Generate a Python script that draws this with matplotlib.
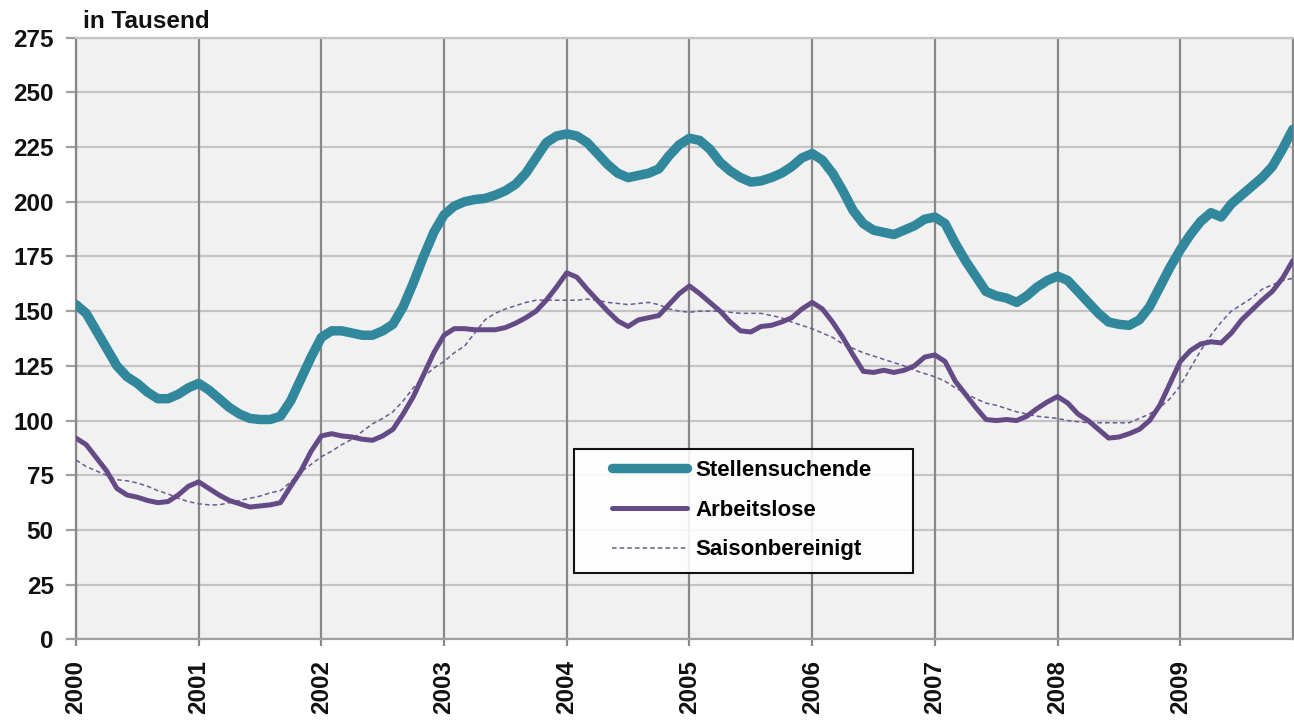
import matplotlib
matplotlib.use("Agg")
import matplotlib.pyplot as plt
from matplotlib.patches import Rectangle
import numpy as np

plt.rcParams['font.family'] = ['Liberation Sans', 'DejaVu Sans']

years = [2000, 2001, 2002, 2003, 2004, 2005, 2006, 2007, 2008, 2009]
year_labels = [str(y) for y in years]
y_ticks = [0, 25, 50, 75, 100, 125, 150, 175, 200, 225, 250, 275]

stellensuchende = [
    153, 149, 141, 133, 125, 120, 117, 113, 110, 110, 112, 115,
    117, 114, 110, 106, 103, 101, 100.5, 100.5, 102, 109, 119, 129,
    138, 141, 141, 140, 139, 139, 141, 144, 152, 163, 175, 186,
    194, 198, 200, 201, 201.5, 203, 205, 208, 213, 220, 227, 230,
    231, 230, 227, 222, 217, 213, 211, 212, 213, 215, 221, 226,
    229, 228, 224, 218, 214, 211, 209, 209.5, 211, 213, 216, 220,
    222, 219, 213, 205, 196, 190, 187, 186, 185, 187, 189, 192,
    193, 190, 181, 173, 166, 159, 157, 156, 154, 157, 161, 164,
    166, 164, 159, 154, 149, 145, 144, 143.5, 146, 152, 161, 170,
    178, 185, 191, 195, 193, 199, 203, 207, 211, 216, 224, 233,
]

arbeitslose = [
    92, 89, 83, 77, 69, 66, 65, 63.5, 62.5, 63, 66, 70,
    72, 69, 66, 63.5, 62, 60.5, 61, 61.5, 62.5, 70, 77, 86,
    93, 94, 93, 92.5, 91.5, 91, 93, 96, 103, 111, 121, 131,
    139, 142, 142, 141.5, 141.5, 141.5, 142.5, 144.5, 147, 150, 155, 161,
    167.5, 165.5, 160, 155, 150, 145.5, 143, 146, 147, 148, 153, 158,
    161.5, 158, 154, 150, 145, 141, 140.5, 143, 143.5, 145, 147, 151,
    154, 151, 145, 138, 130, 122.5, 122, 123, 122, 123, 125, 129,
    130, 127, 118, 112, 106, 100.5, 100, 100.5, 100, 102, 105.5, 108.5,
    111, 108, 103, 100, 96, 92, 92.5, 94, 96, 100, 107, 117,
    127, 132, 135, 136, 135.5, 140, 146, 150.5, 155, 159, 165, 173,
]

saisonbereinigt = [
    82, 79, 77, 75, 73, 72.5, 71.5, 70, 68, 66.5, 64.5, 63,
    62, 61.5, 61.5, 62.5, 63.5, 64.5, 65.5, 67, 68, 72, 76.5, 80,
    83.5, 86, 89, 91.5, 95, 98.5, 101, 104, 109, 115, 120, 124,
    127, 131, 134, 140, 146, 149, 151, 152.5, 154, 155, 155, 155,
    155, 155, 155.5, 155, 154, 153.5, 153, 153.5, 154, 153, 151, 150,
    149.5, 150, 150, 150, 149.5, 149, 149, 149, 148, 147, 145, 143.5,
    142, 140, 138, 135, 133, 131, 129.5, 128, 126.5, 125, 123, 121.5,
    120, 118, 115, 112.5, 110, 108, 107, 105.5, 104, 103, 102, 101.5,
    101, 100, 99.5, 99, 99, 99, 99, 99, 101, 103, 106, 110,
    116, 124, 132, 139, 145, 150, 153, 156, 160, 162, 164, 165,
]

x = 2000 + np.arange(len(stellensuchende)) / 12.0

fig = plt.figure(figsize=(12.94, 7.22), dpi=100)
ax = fig.add_axes([0.0587, 0.1143, 0.9403, 0.8337])
ax.set_facecolor('#f1f1f1')

teal = '#31879b'
purple = '#654b86'

ax.plot(x, saisonbereinigt, color='#6e5a92', lw=1.1, ls=(0, (3, 2)), label='Saisonbereinigt', zorder=3)
ax.plot(x, arbeitslose, color=purple, lw=3.6, label='Arbeitslose', zorder=4, solid_capstyle='round')
ax.plot(x, stellensuchende, color=teal, lw=6.8, label='Stellensuchende', zorder=5, solid_capstyle='round')

ax.set_xlim(2000, 2000 + 119 / 12.0)
ax.set_ylim(0, 275)
ax.set_yticks(y_ticks)
ax.set_xticks(years)
ax.set_xticklabels(year_labels, rotation=90, fontsize=17.5, fontweight='bold')
ax.set_yticklabels([str(v) for v in y_ticks], fontsize=17.5, fontweight='bold')

for yv in y_ticks:
    ax.axhline(yv, color='#c4c4c4', lw=1.6, zorder=1)
for xv in years:
    ax.axvline(xv, color='#888888', lw=1.6, zorder=1)

for s in ax.spines.values():
    s.set_color('#888888')
    s.set_linewidth(1.6)
ax.spines['bottom'].set_color('#a0a0a0')
ax.spines['top'].set_color('#c4c4c4')

ax.tick_params(axis='y', length=7, width=1.6, color='#a0a0a0', pad=9, labelcolor='#111111')
ax.tick_params(axis='x', length=5, width=1.6, color='#888888', pad=10, labelcolor='#111111')

fig.text(83 / 1294, 1 - 28 / 722, 'in Tausend', fontsize=17.5, fontweight='bold',
         ha='left', va='baseline', color='#111111')

# legend box
box = Rectangle((0.409, 0.110), 0.279, 0.206, transform=ax.transAxes,
                facecolor='white', alpha=0.88, edgecolor='none', zorder=9)
ax.add_patch(box)
box_edge = Rectangle((0.409, 0.110), 0.279, 0.206, transform=ax.transAxes,
                     facecolor='none', edgecolor='#111111', lw=1.5, zorder=11)
ax.add_patch(box_edge)

handles, labels = ax.get_legend_handles_labels()
order = [2, 1, 0]
leg = ax.legend([handles[i] for i in order], [labels[i] for i in order],
                loc='center left', bbox_to_anchor=(0.4405, 0.215),
                frameon=False, prop={'weight': 'bold', 'size': 16},
                handlelength=3.4, handletextpad=0.35,
                borderpad=0, labelspacing=0.85, borderaxespad=0)
leg.set_zorder(12)

fig.savefig('out.png', dpi=100)
